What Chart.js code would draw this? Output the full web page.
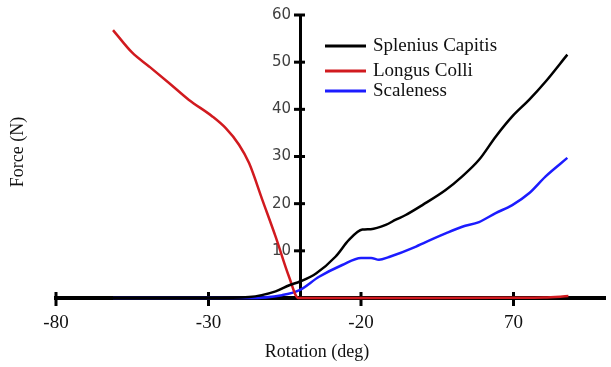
<!DOCTYPE html>
<html>
<head>
<meta charset="utf-8">
<script src="https://cdn.jsdelivr.net/npm/chart.js@4.4.1/dist/chart.umd.min.js"></script>
<style>
  html, body { margin: 0; padding: 0; background: #fff; }
  #wrap { width: 611px; height: 367px; }
</style>
</head>
<body>
<div id="wrap"><canvas id="forca"></canvas></div>
<script>
// eixo x: posicoes das marcas e os rotulos (como no original)
const xTickValues = [0, 10, 20, 30];
const xTickLabels = ["-80", "-30", "-20", "70"];
const yTickValues = [0, 10, 20, 30, 40, 50, 60];

const splenius_x = [3.74, 10, 12.66, 14.4, 15.3, 16.0, 17.05, 18.34, 19.21, 20.09, 20.64, 21.62, 22.28, 22.93, 24.07, 25.55, 26.64, 27.74, 28.83, 29.92, 31.02, 32.11, 33.53];
const splenius_y = [0, 0, 0.2, 1.4, 2.7, 3.5, 5.2, 8.8, 12.3, 14.5, 14.6, 15.5, 16.6, 17.6, 19.8, 22.9, 25.8, 29.3, 34.2, 38.5, 42.0, 45.9, 51.6];

const longus_x = [3.74, 5.0, 6.10, 7.41, 8.72, 10.25, 11.13, 12.0, 12.66, 13.53, 14.4, 15.28, 15.89, 20, 25, 30, 32, 33.6];
const longus_y = [56.8, 52.0, 49.1, 45.6, 42.0, 38.5, 36.0, 32.5, 28.6, 20.8, 13.0, 4.5, 0, 0, 0, 0.05, 0.1, 0.4];

const scaleness_x = [3.74, 10, 12.66, 14.82, 15.93, 17.25, 18.77, 20.0, 20.66, 21.18, 21.84, 23.61, 24.07, 25.55, 26.64, 27.74, 28.83, 29.92, 31.02, 32.11, 33.53];
const scaleness_y = [0, 0, 0, 0.6, 1.6, 4.5, 7.0, 8.5, 8.5, 8.1, 8.7, 10.9, 11.6, 13.7, 15.1, 16.1, 18.0, 19.7, 22.2, 25.8, 29.7];

const yAxisAt = 16;

function pares(xs, ys) {
  return xs.map((x, i) => ({ x: x, y: ys[i] }));
}

// marcas que cruzam os eixos, rotulos do eixo y, titulos e legenda
const extras = {
  id: "extras",
  beforeDatasetsDraw(chart) {
    const { ctx, scales: { x, y } } = chart;
    const yPx = x.getPixelForValue(yAxisAt);
    ctx.save();
    ctx.strokeStyle = "#000";
    ctx.lineWidth = 3;
    x.ticks.forEach((t, i) => {
      const px = x.getPixelForTick(i);
      ctx.beginPath();
      ctx.moveTo(px, y.bottom - 6);
      ctx.lineTo(px, y.bottom + 8);
      ctx.stroke();
    });
    ctx.fillStyle = "#404040";
    ctx.font = "15px 'DejaVu Sans'";
    ctx.textAlign = "right";
    ctx.textBaseline = "middle";
    y.ticks.forEach((t, i) => {
      if (t.value === 0) return;
      const py = y.getPixelForTick(i);
      ctx.beginPath();
      ctx.moveTo(yPx - 6, py);
      ctx.lineTo(yPx + 5, py);
      ctx.stroke();
      ctx.fillText(String(t.value), yPx - 9, py);
    });
    ctx.restore();
  },
  afterDraw(chart) {
    const ctx = chart.ctx;
    ctx.save();
    ctx.fillStyle = "#111";
    ctx.font = "18px 'Liberation Serif'";
    ctx.textAlign = "center";
    ctx.textBaseline = "middle";
    ctx.fillText("Rotation (deg)", 317, 352);
    ctx.translate(18, 152);
    ctx.rotate(-Math.PI / 2);
    ctx.fillText("Force (N)", 0, 0);
    ctx.restore();

    const rows = [46, 71, 91];
    ctx.save();
    ctx.font = "19px 'Liberation Serif'";
    ctx.textAlign = "left";
    ctx.textBaseline = "middle";
    chart.data.datasets.forEach((ds, i) => {
      ctx.strokeStyle = ds.borderColor;
      ctx.lineWidth = 3;
      ctx.beginPath();
      ctx.moveTo(325, rows[i]);
      ctx.lineTo(366, rows[i]);
      ctx.stroke();
      ctx.fillStyle = "#111";
      ctx.fillText(ds.label, 373, rows[i]);
    });
    ctx.restore();
  }
};

const grafico_forca = document.getElementById("forca");

new Chart(grafico_forca, {
  type: "line",
  data: {
    datasets: [
      {
        label: "Splenius Capitis",
        data: pares(splenius_x, splenius_y),
        borderColor: "#000000",
      },
      {
        label: "Longus Colli",
        data: pares(longus_x, longus_y),
        borderColor: "#d11a1f",
      },
      {
        label: "Scaleness",
        data: pares(scaleness_x, scaleness_y),
        borderColor: "#1c1cff",
      },
    ],
  },
  options: {
    responsive: true,
    maintainAspectRatio: false,
    animation: false,
    layout: { padding: { left: 56, right: 6, top: 15, bottom: 0 } },
    elements: {
      point: { radius: 0 },
      line: { borderWidth: 2.5, tension: 0.4, cubicInterpolationMode: "monotone", fill: false },
    },
    datasets: { line: { clip: false } },
    plugins: {
      legend: { display: false },
      tooltip: { enabled: false },
    },
    scales: {
      x: {
        type: "linear",
        min: 0,
        max: 36,
        afterBuildTicks: (s) => { s.ticks = xTickValues.map((v) => ({ value: v })); },
        afterFit: (s) => { s.height = 69; },
        grid: { display: false, drawTicks: false },
        border: { display: true, color: "#000", width: 4 },
        ticks: {
          padding: 14,
          color: "#111",
          font: { family: "'Liberation Serif'", size: 19 },
          callback: (v) => xTickLabels[xTickValues.indexOf(v)],
        },
      },
      y: {
        type: "linear",
        min: 0,
        max: 60,
        position: { x: yAxisAt },
        afterBuildTicks: (s) => { s.ticks = yTickValues.map((v) => ({ value: v })); },
        grid: { display: false, drawTicks: false },
        border: { display: true, color: "#000", width: 3 },
        ticks: { display: false },
      },
    },
  },
  plugins: [extras],
});
</script>
</body>
</html>
